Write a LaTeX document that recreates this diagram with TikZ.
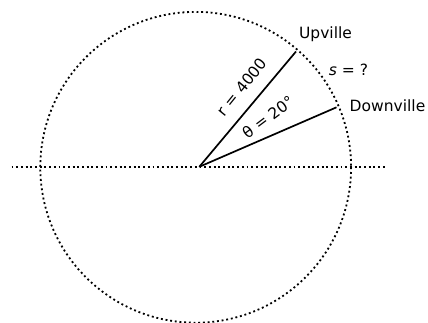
\documentclass[tikz,border=0pt]{standalone}
\usepackage{fontspec}
\setmainfont{DejaVu Sans}
\begin{document}
\begin{tikzpicture}[x=1pt,y=-1pt,
  dotline/.style={line width=1.8pt,dash pattern=on 1.9pt off 2.8pt},
  radius line/.style={line width=1.7pt},
  lab/.style={font=\fontsize{15.5}{18}\selectfont,inner sep=0pt}]
\useasboundingbox (0,0) rectangle (428,322);
\coordinate (o) at (195.7,167.3);
\coordinate (c) at (199.3,166.8);
\coordinate (hl) at (11.5,167.3);
\coordinate (hr) at (385.5,167.3);
\coordinate (u) at (296,51.5);
\coordinate (d) at (336.5,107.3);
\draw[dotline] (o) circle[radius=155.4];
\draw[dotline] (hl) -- (hr);
\draw[radius line] (c) -- (u);
\draw[radius line] (c) -- (d);
\node[lab] (up) at (325.5,34) {Upville};
\node[lab] (dn) at (387.5,106) {Downville};
\node[lab] (s) at (348.5,70) {\textit{s} = ?};
\node[lab,rotate=51] (r) at (242,87) {r = 4000};
\node[lab,rotate=37] (th) at (268,117) {θ = 20°};
\end{tikzpicture}
\end{document}
